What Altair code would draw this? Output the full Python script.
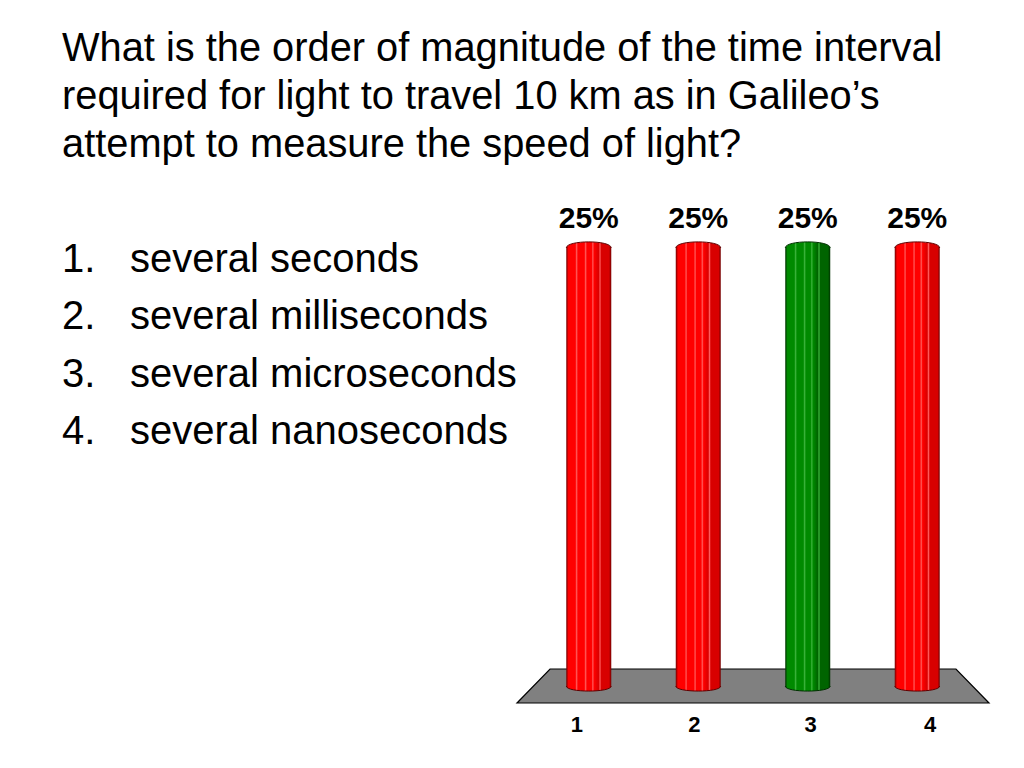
import altair as alt
import pandas as pd

# ---- data ----
title_lines = [
    "What is the order of magnitude of the time interval",
    "required for light to travel 10 km as in Galileo\u2019s",
    "attempt to measure the speed of light?",
]
option_numbers = ["1.", "2.", "3.", "4."]
option_texts = ["several seconds", "several milliseconds", "several microseconds", "several nanoseconds"]
option_index = [1, 2, 3, 4]

bar_categories = ["1", "2", "3", "4"]
bar_values = [25, 25, 25, 25]
bar_labels = ["25%", "25%", "25%", "25%"]
bar_correct = [False, False, True, False]

FONT = "Liberation Sans"

opts = pd.DataFrame({"idx": option_index, "num": option_numbers, "txt": option_texts})
bars = pd.DataFrame({"cat": bar_categories, "val": bar_values, "lab": bar_labels, "correct": bar_correct})
floor_df = pd.DataFrame({"floor": [0]})


def stripes(base, light, dark, edge):
    stops = [
        {"offset": 0.0, "color": edge},
        {"offset": 0.05, "color": base},
        {"offset": 0.20, "color": base},
        {"offset": 0.23, "color": light},
        {"offset": 0.26, "color": base},
        {"offset": 0.40, "color": base},
        {"offset": 0.43, "color": light},
        {"offset": 0.46, "color": base},
        {"offset": 0.56, "color": base},
        {"offset": 0.59, "color": light},
        {"offset": 0.62, "color": base},
        {"offset": 0.72, "color": dark},
        {"offset": 0.75, "color": light},
        {"offset": 0.78, "color": dark},
        {"offset": 0.95, "color": dark},
        {"offset": 1.0, "color": edge},
    ]
    return {"gradient": "linear", "x1": 0, "x2": 1, "y1": 0, "y2": 0, "stops": stops}


red_grad = stripes("#ff0000", "#ff5a5a", "#d80000", "#700000")
green_grad = stripes("#008a00", "#3cb43c", "#006400", "#003000")
fill_cond = alt.condition("datum.correct", alt.value(green_grad), alt.value(red_grad))
stroke_cond = alt.condition("datum.correct", alt.value("#003000"), alt.value("#600000"))

# ---- left panel: list of options ----
y_opt = alt.Y("idx:Q", scale=alt.Scale(domain=[-0.239, 8.522], reverse=True), axis=None)
num_layer = alt.Chart(opts).mark_text(
    align="left", baseline="alphabetic", font=FONT, fontSize=40, color="black"
).encode(x=alt.value(3), y=y_opt, text="num:N")
txt_layer = alt.Chart(opts).mark_text(
    align="left", baseline="alphabetic", font=FONT, fontSize=40, color="black"
).encode(x=alt.value(71), y=y_opt, text="txt:N")
left = alt.layer(num_layer, txt_layer).properties(width=458, height=502)

# ---- right panel: 3D-ish bars ----
y_scale = alt.Scale(domain=[-0.97, 27.68], nice=False, zero=False)
x_bar = alt.X(
    "cat:N",
    sort=bar_categories,
    scale=alt.Scale(paddingInner=0.589, paddingOuter=0.45),
    axis=alt.Axis(
        title=None, domain=False, ticks=False, labelAngle=0,
        labelFont=FONT, labelFontSize=22, labelFontWeight="bold", labelColor="black",
        labelPadding=11,
        labelOffset={"condition": [
            {"test": "datum.value == '1'", "value": -12},
            {"test": "datum.value == '2'", "value": -4},
            {"test": "datum.value == '3'", "value": 3},
            {"test": "datum.value == '4'", "value": 13},
        ], "value": 0},
    ),
)
y_bar = alt.Y("val:Q", scale=y_scale, axis=None)

floor = alt.Chart(floor_df).mark_point(
    shape="M-1,0.072 L1,0.072 L0.86,-0.072 L-0.86,-0.072 Z",
    filled=True, fill="#808080", stroke="black", strokeWidth=1.2, opacity=1, size=472 * 472,
).encode(x=alt.value(236), y=alt.value(485))

bar_base = alt.Chart(bars)
bar_body = bar_base.mark_bar(strokeWidth=0).encode(
    x=x_bar, y=y_bar, y2=alt.datum(0), fill=fill_cond
)
bottom_cap = bar_base.mark_point(
    shape="M-1,0 C-1,0.3 1,0.3 1,0", filled=True, size=2025, strokeWidth=1, opacity=1
).encode(x=x_bar, y=alt.Y("zero:Q", scale=y_scale, axis=None),
         fill=fill_cond, stroke=stroke_cond).transform_calculate(zero="0")
top_cap = bar_base.mark_point(
    shape="M-1,0 C-1,-0.36 1,-0.36 1,0", filled=True, size=2025, strokeWidth=1, opacity=1
).encode(x=x_bar, y=y_bar, fill=fill_cond, stroke=stroke_cond)
labels = bar_base.mark_text(
    baseline="alphabetic", dy=-20, font=FONT, fontSize=30, fontWeight="bold", color="black"
).encode(x=x_bar, y=y_bar, text="lab:N")

right = alt.layer(floor, bar_body, bottom_cap, top_cap, labels).properties(width=472, height=502)

chart = alt.hconcat(left, right, spacing=0, bounds="flush").properties(
    title=alt.TitleParams(
        text=title_lines, anchor="start", font=FONT, fontSize=39.8, fontWeight="normal",
        lineHeight=48, color="black", offset=35, dx=3,
    ),
    padding={"left": 51, "top": 21, "right": 6, "bottom": 10},
    background="white",
).configure_view(stroke=None, strokeWidth=0)

chart.save("out.html", embed_options={"renderer": "svg", "actions": False})
